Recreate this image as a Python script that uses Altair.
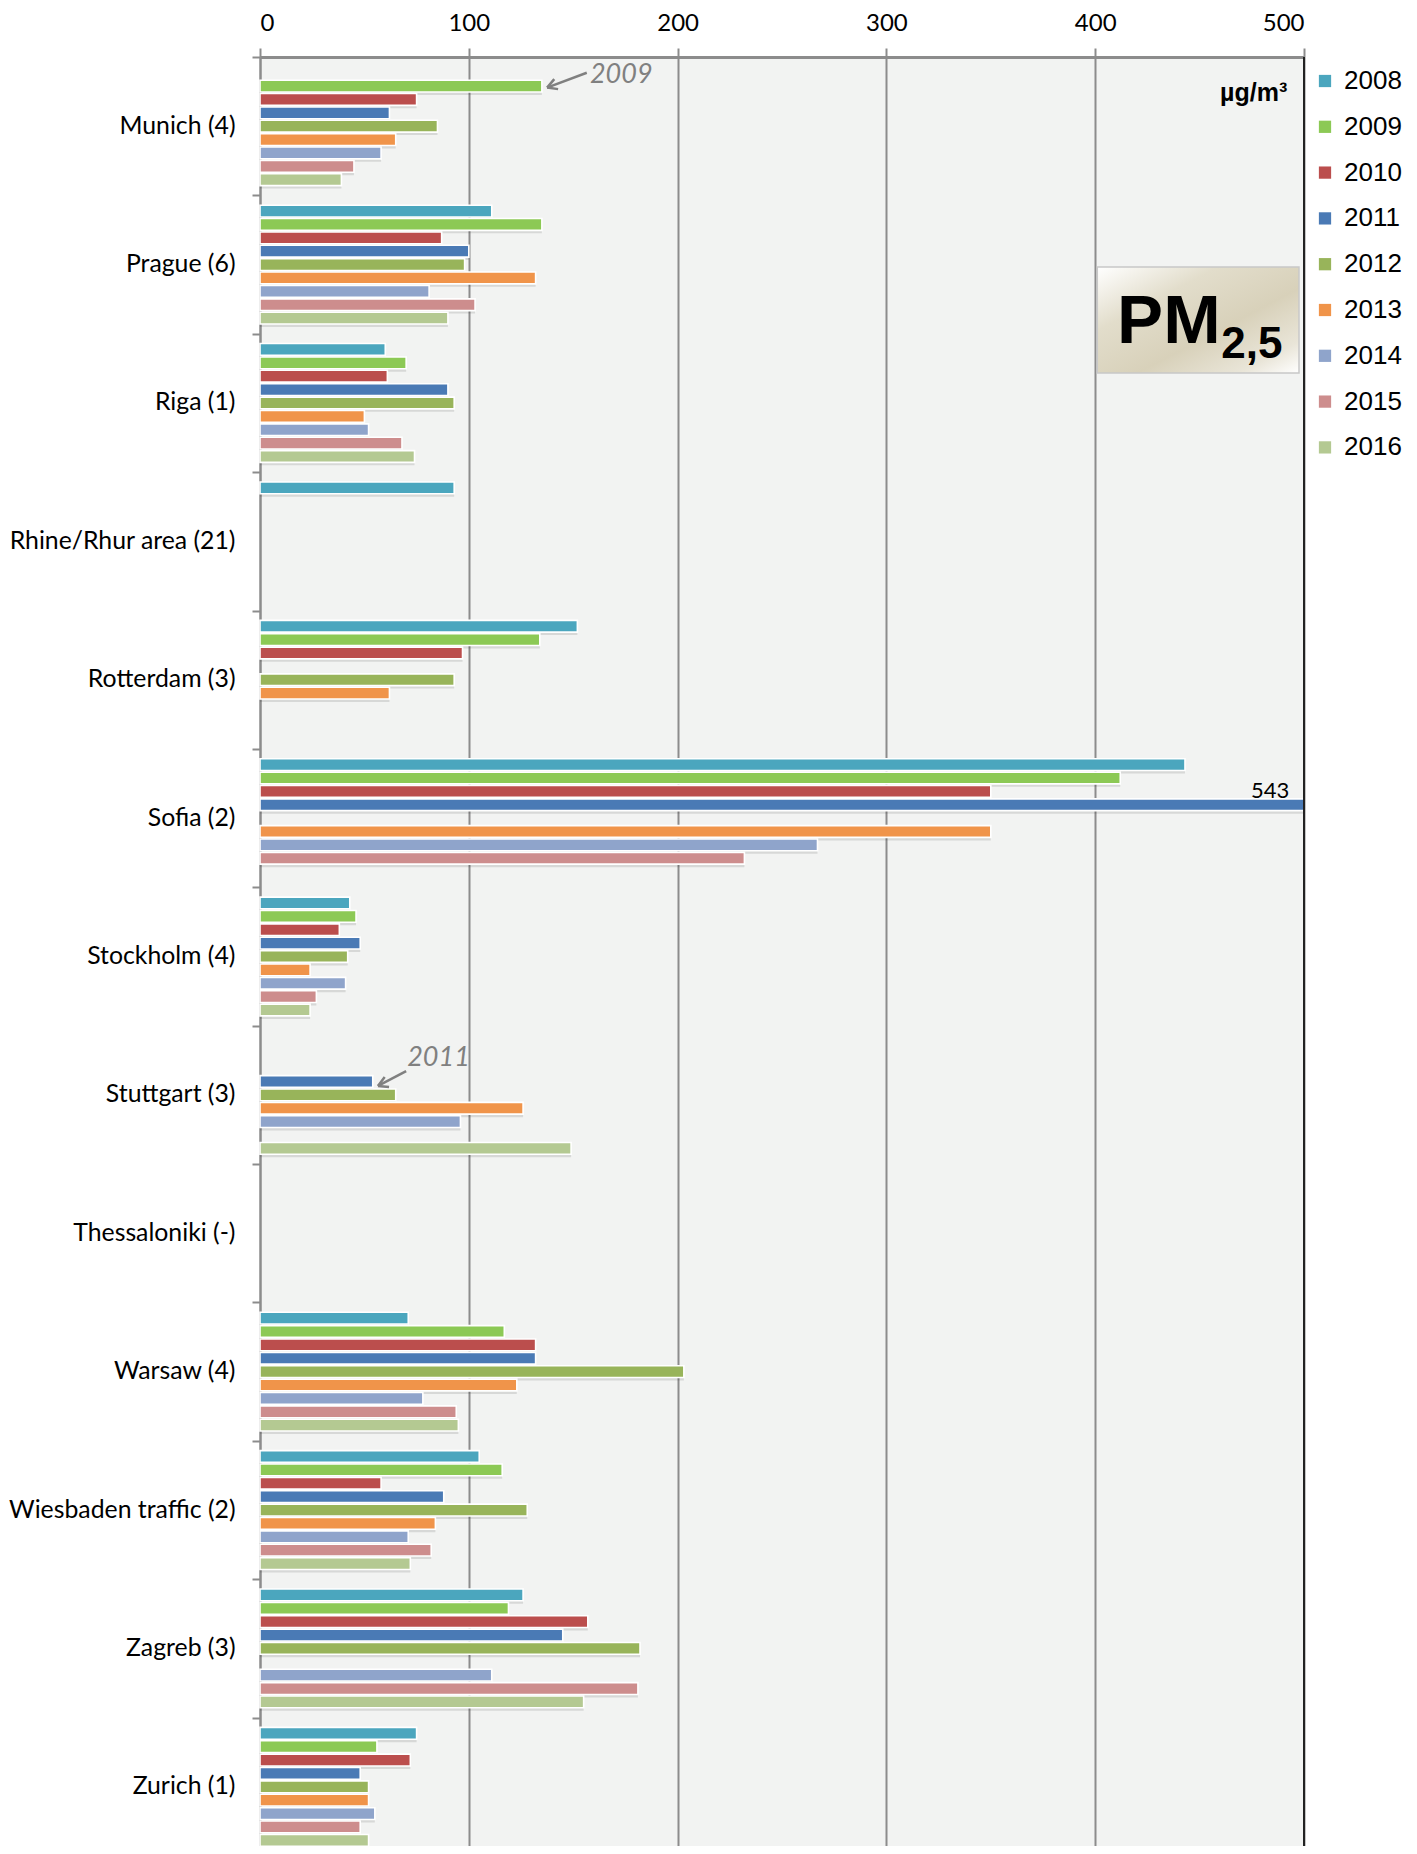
import altair as alt
import pandas as pd

cities = ["Munich (4)", "Prague (6)", "Riga (1)", "Rhine/Rhur area (21)", "Rotterdam (3)",
          "Sofia (2)", "Stockholm (4)", "Stuttgart (3)", "Thessaloniki (-)", "Warsaw (4)",
          "Wiesbaden traffic (2)", "Zagreb (3)", "Zurich (1)"]
years = ["2008", "2009", "2010", "2011", "2012", "2013", "2014", "2015", "2016"]
colors = ["#4BA6BE", "#8CC955", "#BB4E4D", "#4A7AB5", "#98B45A", "#F0944A", "#8FA4CB", "#CD8D8D", "#B4C992"]

# values per city, in year order 2008..2016 (None = no data)
munich       = [None, 135, 75, 62, 85, 65, 58, 45, 39]
prague       = [111, 135, 87, 100, 98, 132, 81, 103, 90]
riga         = [60, 70, 61, 90, 93, 50, 52, 68, 74]
rhine_rhur   = [93, None, None, None, None, None, None, None, None]
rotterdam    = [152, 134, 97, None, 93, 62, None, None, None]
sofia        = [443, 412, 350, 543, None, 350, 267, 232, None]
stockholm    = [43, 46, 38, 48, 42, 24, 41, 27, 24]
stuttgart    = [None, None, None, 54, 65, 126, 96, None, 149]
thessaloniki = [None, None, None, None, None, None, None, None, None]
warsaw       = [71, 117, 132, 132, 203, 123, 78, 94, 95]
wiesbaden    = [105, 116, 58, 88, 128, 84, 71, 82, 72]
zagreb       = [126, 119, 157, 145, 182, None, 111, 181, 155]
zurich       = [75, 56, 72, 48, 52, 52, 55, 48, 52]

series = [munich, prague, riga, rhine_rhur, rotterdam, sofia, stockholm, stuttgart,
          thessaloniki, warsaw, wiesbaden, zagreb, zurich]

rows = []
for c, vals in zip(cities, series):
    for yr, v in zip(years, vals):
        if v is not None:
            rows.append({"city": c, "year": yr, "value": v})
df = pd.DataFrame(rows)

# annotation data
note_text = pd.DataFrame([
    {"city": "Munich (4)", "year": "2008", "x": 158, "label": "2009"},
    {"city": "Stuttgart (3)", "year": "2009", "x": 70.5, "label": "2011"},
])
arrow_lines = pd.DataFrame([
    {"id": "a", "city": "Munich (4)", "year": "2008", "x": 156.5, "o": 0},
    {"id": "a", "city": "Munich (4)", "year": "2009", "x": 137.5, "o": 1},
    {"id": "b", "city": "Stuttgart (3)", "year": "2010", "x": 70, "o": 0},
    {"id": "b", "city": "Stuttgart (3)", "year": "2011", "x": 56.5, "o": 1},
])
arrow_heads = pd.DataFrame([
    {"city": "Munich (4)", "year": "2009", "x": 137.5, "ang": 339},
    {"city": "Stuttgart (3)", "year": "2011", "x": 56.5, "ang": 336},
])
overflow = pd.DataFrame([{"city": "Sofia (2)", "year": "2010", "x": 493, "label": "543"}])
unit = pd.DataFrame([{"city": "Munich (4)", "year": "2009", "x": 492, "label": "µg/m³"}])
pm_box = pd.DataFrame([{"x": 401, "x2": 497.6}])
pm_main = pd.DataFrame([{"x": 410.5, "label": "PM"}])
pm_sub = pd.DataFrame([{"x": 460.4, "label": "2,5"}])

GRAY = "#8C8C8C"
STEP = 1799 / 13.0

x_scale = alt.Scale(domain=[0, 500], clamp=True, nice=False)
x_axis = alt.Axis(orient="top", values=[0, 100, 200, 300, 400, 500], grid=True,
                  gridColor=GRAY, gridWidth=2, domainColor=GRAY, domainWidth=3,
                  tickColor=GRAY, tickWidth=2, tickSize=9, labelFont="Lato",
                  labelFontSize=24, labelColor="#000000", labelPadding=13, title=None)
y_scale = alt.Scale(domain=cities, range=[0, 1799], paddingInner=0.13, paddingOuter=0.065)
y_axis = alt.Axis(orient="left", tickOffset=-STEP / 2, labelOffset=STEP / 2, ticks=True,
                  tickSize=8, tickColor=GRAY, tickWidth=2, domainColor=GRAY, domainWidth=2,
                  labelFont="Lato", labelFontSize=24.8, labelColor="#000000", labelPadding=17,
                  labelLimit=400, title=None, grid=False)
y_enc = alt.Y("city:N", sort=cities, scale=y_scale, axis=y_axis)
off_scale = alt.Scale(domain=years, range=[0, 120.4], paddingInner=0.12, paddingOuter=0.06)
yoff = alt.YOffset("year:N", sort=years, scale=off_scale)
# annotation positions: centre of each year's sub-band
ann_off = alt.YOffset("year:N", sort=years,
                      scale=alt.Scale(domain=years, range=[5.9, 126.3], paddingInner=0.12, paddingOuter=0.06))
shadow_off = alt.YOffset("year:N", sort=years,
                         scale=alt.Scale(domain=years, range=[3, 123.4], paddingInner=0.12, paddingOuter=0.06))

shadow = alt.Chart(df).mark_bar(color="#000000", opacity=0.11, x2Offset=4).encode(
    x=alt.X("value:Q", scale=x_scale, axis=x_axis),
    y=y_enc,
    yOffset=shadow_off,
)

bars = alt.Chart(df).mark_bar(stroke="#FFFFFF", strokeWidth=1.6).encode(
    x=alt.X("value:Q", scale=x_scale, axis=x_axis),
    y=y_enc,
    yOffset=yoff,
    color=alt.Color("year:N", sort=years, scale=alt.Scale(domain=years, range=colors),
                    legend=alt.Legend(title=None, orient="none", legendX=1052, legendY=11,
                                      symbolType="square", symbolSize=150, symbolStrokeWidth=0,
                                      labelFont="Liberation Sans", labelFontSize=26,
                                      labelColor="#000000", rowPadding=19.8, labelOffset=6)),
)

border = alt.Chart(pd.DataFrame({"v": [500]})).mark_rule(color="#222222", strokeWidth=2).encode(
    x=alt.X("v:Q", scale=x_scale)
)

notes = alt.Chart(note_text).mark_text(align="left", baseline="middle", font="Lato", dy=2,
                                       fontStyle="italic", fontSize=27, color="#808080").encode(
    x=alt.X("x:Q", scale=x_scale), y=y_enc, yOffset=ann_off, text="label:N")

arrows = alt.Chart(arrow_lines).mark_line(color="#808080", strokeWidth=2.5).encode(
    x=alt.X("x:Q", scale=x_scale), y=y_enc, yOffset=ann_off, detail="id:N", order="o:Q")

heads = alt.Chart(arrow_heads).mark_point(shape="M0,0L1,-0.55M0,0L1,0.55", filled=False,
                                          color="#808080", strokeWidth=2.5, size=380, opacity=1).encode(
    x=alt.X("x:Q", scale=x_scale), y=y_enc, yOffset=ann_off, angle=alt.Angle("ang:Q", scale=None))

over_txt = alt.Chart(overflow).mark_text(align="right", baseline="middle", font="Lato", dy=-3,
                                         fontSize=22, color="#000000").encode(
    x=alt.X("x:Q", scale=x_scale), y=y_enc, yOffset=ann_off, text="label:N")

unit_txt = alt.Chart(unit).mark_text(align="right", baseline="middle", dy=5,
                                     font="Liberation Sans", fontWeight="bold",
                                     fontSize=25, color="#000000").encode(
    x=alt.X("x:Q", scale=x_scale), y=y_enc, yOffset=ann_off, text="label:N")

box = alt.Chart(pm_box).mark_rect(
    fill=alt.Gradient(gradient="linear", x1=0, y1=0, x2=1, y2=1,
                      stops=[alt.GradientStop(color="#FFFFFF", offset=0),
                             alt.GradientStop(color="#E2DDCB", offset=0.3),
                             alt.GradientStop(color="#D8D1BA", offset=0.6),
                             alt.GradientStop(color="#E9E5D8", offset=0.85),
                             alt.GradientStop(color="#FFFFFF", offset=1)]),
    stroke="#C8C8C8", strokeWidth=1.5).encode(
    x=alt.X("x:Q", scale=x_scale), x2="x2:Q", y=alt.value(210), y2=alt.value(316))

pm_t = alt.Chart(pm_main).mark_text(align="left", baseline="alphabetic", font="Liberation Sans",
                                    fontWeight="bold", fontSize=69, color="#000000").encode(
    x=alt.X("x:Q", scale=x_scale), y=alt.value(286), text="label:N")
pm_s = alt.Chart(pm_sub).mark_text(align="left", baseline="alphabetic", font="Liberation Sans",
                                   fontWeight="bold", fontSize=44, color="#000000").encode(
    x=alt.X("x:Q", scale=x_scale), y=alt.value(301), text="label:N")

chart = alt.layer(shadow, bars, border, notes, arrows, heads, over_txt, unit_txt, box, pm_t, pm_s).resolve_scale(
    yOffset="independent"
).properties(
    width=1044, height=1789,
    autosize=alt.AutoSizeParams(type="none"),
    padding={"left": 252, "top": 49, "right": 105, "bottom": 0},
).configure_view(fill="#F2F3F2", stroke=None)

chart.save("out.html", embed_options={"renderer": "svg", "actions": False})
